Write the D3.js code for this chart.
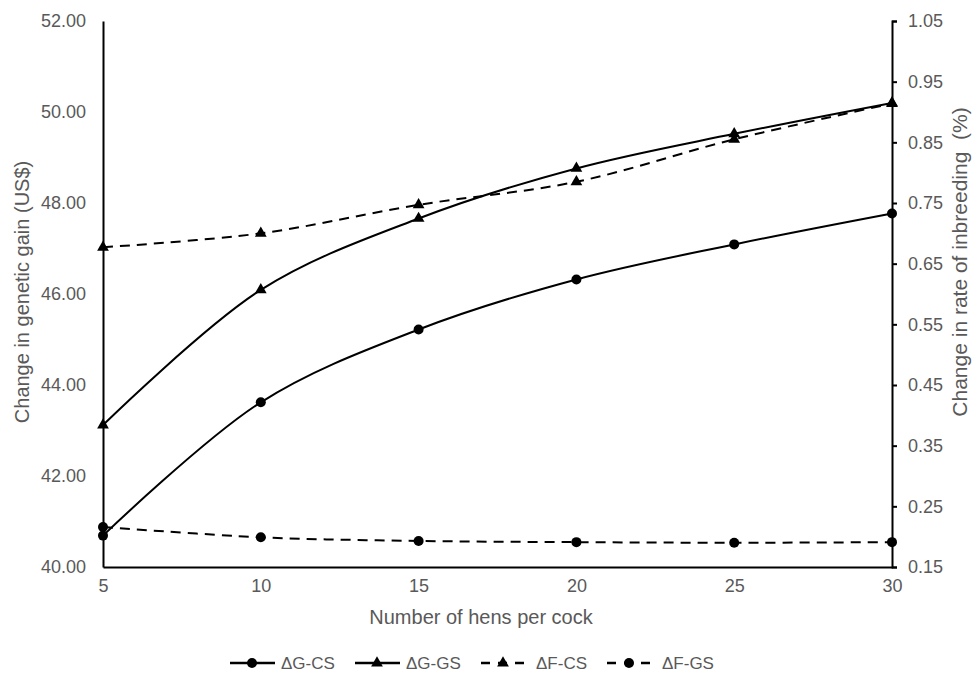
<!DOCTYPE html>
<html lang="en">
<head>
    <meta charset="UTF-8">
    <title>Genetic gain and inbreeding</title>
    <script src="https://cdn.jsdelivr.net/npm/d3@7"></script>
    <style>
        body { margin: 0; background: #fff; }
        text { font-family: "Liberation Sans", Arial, sans-serif; }
    </style>
</head>
<body>
    <script>
        // data
        var hens = [5, 10, 15, 20, 25, 30];
        var dgCS = [40.69, 43.62, 45.22, 46.32, 47.09, 47.77];   // left axis
        var dgGS = [43.12, 46.09, 47.66, 48.76, 49.52, 50.20];   // left axis
        var dfCS = [0.677, 0.700, 0.747, 0.785, 0.855, 0.914];   // right axis
        var dfGS = [0.216, 0.199, 0.193, 0.191, 0.190, 0.191];   // right axis
        var leftTicks = [40, 42, 44, 46, 48, 50, 52];
        var rightTicks = [0.15, 0.25, 0.35, 0.45, 0.55, 0.65, 0.75, 0.85, 0.95, 1.05];

        var w = 973, h = 677;
        // plot edges ("top" is taken by window.top, so use other names)
        var plotL = 103, plotR = 892, plotT = 21, plotB = 567;

        var svg = d3.select("body").append("svg")
            .attr("width", w)
            .attr("height", h);

        var xScale = d3.scaleLinear().domain([5, 30]).range([plotL, plotR]);
        var yLeft = d3.scaleLinear().domain([40, 52]).range([plotB, plotT]);
        var yRight = d3.scaleLinear().domain([0.15, 1.05]).range([plotB, plotT]);

        // axes
        var xAxis = d3.axisBottom(xScale).tickValues(hens).tickSize(0).tickPadding(12);
        var lAxis = d3.axisLeft(yLeft).tickValues(leftTicks).tickSize(0).tickPadding(17)
            .tickFormat(d3.format(".2f"));
        var rAxis = d3.axisRight(yRight).tickValues(rightTicks).tickSize(5).tickPadding(11)
            .tickFormat(d3.format(".2f"));

        function styleAxis(g) {
            g.select(".domain").attr("stroke", "#000").attr("stroke-width", 2);
            g.selectAll(".tick line").attr("stroke", "#000").attr("stroke-width", 2);
            g.selectAll(".tick text").attr("fill", "#595959").style("font-size", "18px")
                .style("font-family", "'Liberation Sans', Arial, sans-serif");
        }

        svg.append("g").attr("transform", "translate(0," + plotB + ")").call(xAxis).call(styleAxis);
        svg.append("g").attr("transform", "translate(" + plotL + ",0)").call(lAxis).call(styleAxis);
        svg.append("g").attr("transform", "translate(" + plotR + ",0)").call(rAxis).call(styleAxis);

        // axis titles
        svg.append("text")
            .attr("x", 481).attr("y", 624)
            .attr("text-anchor", "middle").attr("fill", "#595959").style("font-size", "20px")
            .text("Number of hens per cock");
        svg.append("text")
            .attr("transform", "translate(29,292) rotate(-90)")
            .attr("text-anchor", "middle").attr("fill", "#595959").style("font-size", "20px")
            .text("Change in genetic gain (US$)");
        svg.append("text")
            .attr("transform", "translate(967,262) rotate(-90)")
            .attr("text-anchor", "middle").attr("fill", "#595959").style("font-size", "21px")
            .style("white-space", "pre")
            .text("Change in rate of inbreeding  (%)");

        var series = [
            { name: "\u0394G-CS", values: dgCS, y: yLeft, dash: null, marker: "circle" },
            { name: "\u0394G-GS", values: dgGS, y: yLeft, dash: null, marker: "triangle" },
            { name: "\u0394F-CS", values: dfCS, y: yRight, dash: "10,7", marker: "triangle" },
            { name: "\u0394F-GS", values: dfGS, y: yRight, dash: "10,7", marker: "circle" }
        ];

        var triangle = d3.symbol().type(d3.symbolTriangle).size(60);

        series.forEach(function(s) {
            var line = d3.line()
                .x(function(d, i) { return xScale(hens[i]); })
                .y(function(d) { return s.y(d); })
                .curve(d3.curveCatmullRom.alpha(0.5));

            svg.append("path")
                .datum(s.values)
                .attr("d", line)
                .attr("fill", "none")
                .attr("stroke", "#000")
                .attr("stroke-width", 2)
                .attr("stroke-dasharray", s.dash);

            if (s.marker == "circle") {
                svg.selectAll(null).data(s.values).enter().append("circle")
                    .attr("cx", function(d, i) { return xScale(hens[i]); })
                    .attr("cy", function(d) { return s.y(d); })
                    .attr("r", 5)
                    .attr("fill", "#000");
            } else {
                svg.selectAll(null).data(s.values).enter().append("path")
                    .attr("d", triangle)
                    .attr("transform", function(d, i) {
                        return "translate(" + xScale(hens[i]) + "," + s.y(d) + ")";
                    })
                    .attr("fill", "#000");
            }
        });

        // legend
        var legendX = [230, 355, 481, 607];
        var legend = svg.selectAll(".legend").data(series).enter().append("g")
            .attr("class", "legend")
            .attr("transform", function(d, i) { return "translate(" + legendX[i] + ",663)"; });

        legend.append("line")
            .attr("x1", 0).attr("x2", 45).attr("y1", 0).attr("y2", 0)
            .attr("stroke", "#000").attr("stroke-width", 2.5)
            .attr("stroke-dasharray", function(d) { return d.dash ? "9,8" : null; });

        legend.each(function(d) {
            var g = d3.select(this);
            if (d.marker == "circle") {
                g.append("circle").attr("cx", 22).attr("cy", 0).attr("r", 5).attr("fill", "#000");
            } else {
                g.append("path").attr("d", triangle).attr("transform", "translate(22,0)").attr("fill", "#000");
            }
        });

        legend.append("text")
            .attr("x", function(d) { return d.dash ? 55 : 51; })
            .attr("y", 6)
            .attr("fill", "#595959")
            .style("font-size", "17px")
            .text(function(d) { return d.name; });
    </script>
</body>
</html>
